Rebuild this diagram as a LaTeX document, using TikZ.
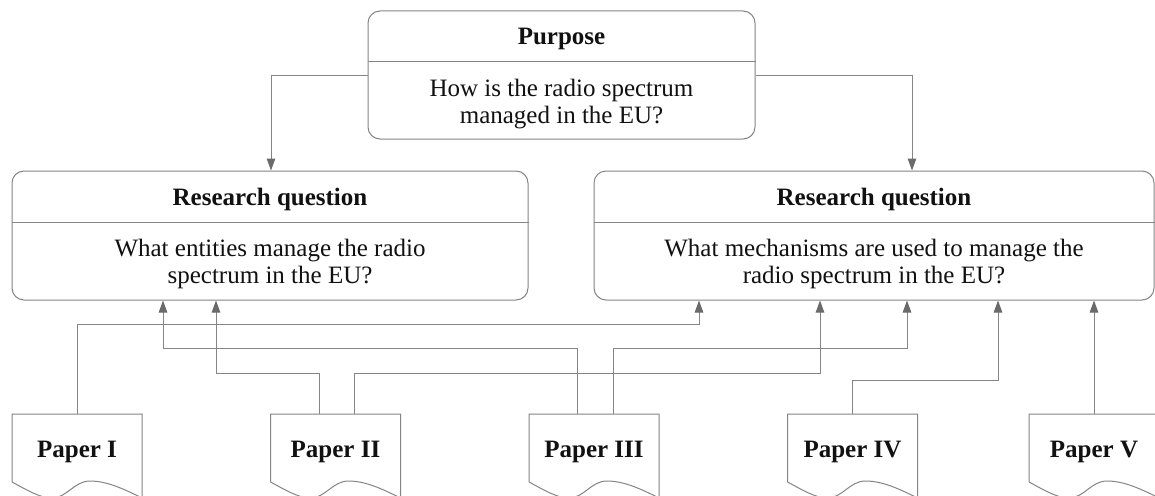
\documentclass[tikz,border=0pt]{standalone}
\usepackage{fontspec}
\setmainfont{Liberation Serif}
\usetikzlibrary{arrows.meta,calc}
\definecolor{linegray}{HTML}{858585}
\definecolor{tipgray}{HTML}{6A6A6A}
\definecolor{textcol}{HTML}{111111}
\tikzset{
  boxline/.style={draw=linegray, line width=1pt},
  bigbox/.style={boxline, rectangle, rounded corners=12pt, inner sep=0pt, fill=white},
  paperbox/.style={rectangle, inner sep=0pt, minimum width=130pt, minimum height=81pt},
  titletext/.style={anchor=base, inner sep=0pt, text=textcol, font=\fontsize{25}{30}\selectfont\bfseries},
  bodytext/.style={anchor=base, inner sep=0pt, text=textcol, font=\fontsize{25}{30}\selectfont},
  conn/.style={draw=linegray, line width=1pt, -{Triangle[length=12pt,width=8.5pt,color=tipgray]}},
}
\newcommand{\mypaper}[3]{%
  \node[paperbox] (#1) at (#2+65,454.5) {};
  \draw[boxline, fill=white] (#2,482) -- (#2,414) -- (#2+130,414) -- (#2+130,498)
    .. controls (#2+112,489) and (#2+95,481) .. (#2+78,481)
    .. controls (#2+62,481) and (#2+55,498) .. (#2+40,498)
    .. controls (#2+28,498) and (#2+15,490) .. (#2,482);
  \node[titletext] (#1t) at (#2+65,457) {#3};
}
\begin{document}
\begin{tikzpicture}[x=1pt,y=-1pt]
\useasboundingbox (0,0) rectangle (1155,495);
\clip (0,0) rectangle (1155,495);
\fill[white] (0,0) rectangle (1155,495);

% Purpose box
\node[bigbox, minimum width=387pt, minimum height=128pt] (purp) at (561.5,75) {};
\draw[boxline] (purp.west |- 0,61) -- (purp.east |- 0,61);
\node[titletext] (purpT) at (561.5,45) {Purpose};
\node[bodytext] (purpB1) at (561.5,96.5) {How is the radio spectrum};
\node[bodytext] (purpB2) at (561.5,123.5) {managed in the EU?};

% Research question 1
\node[bigbox, minimum width=516pt, minimum height=129pt] (rq1) at (270,235.5) {};
\draw[boxline] (rq1.west |- 0,222) -- (rq1.east |- 0,222);
\node[titletext] (rq1T) at (270,205) {Research question};
\node[bodytext] (rq1B1) at (270,256.5) {What entities manage the radio};
\node[bodytext] (rq1B2) at (270,283.5) {spectrum in the EU?};

% Research question 2
\node[bigbox, minimum width=560pt, minimum height=129pt] (rq2) at (874,235.5) {};
\draw[boxline] (rq2.west |- 0,222) -- (rq2.east |- 0,222);
\node[titletext] (rq2T) at (874,205) {Research question};
\node[bodytext] (rq2B1) at (874,256.5) {What mechanisms are used to manage the};
\node[bodytext] (rq2B2) at (874,283.5) {radio spectrum in the EU?};

% Papers
\mypaper{p1}{12}{Paper I}
\mypaper{p2}{270.5}{Paper II}
\mypaper{p3}{529}{Paper III}
\mypaper{p4}{787.5}{Paper IV}
\mypaper{p5}{1029}{Paper V}

% Purpose -> research questions
\draw[conn] (purp.west) -| ([xshift=1pt]rq1.north);
\draw[conn] (purp.east) -| ([xshift=38pt]rq2.north);

% Papers -> research questions
\draw[conn] (p1.north) -- ++(0,-89) -| ([xshift=-175pt]rq2.south);
\draw[conn] ([xshift=-16.5pt]p2.north) -- ++(0,-40) -| ([xshift=-54pt]rq1.south);
\draw[conn] ([xshift=18.5pt]p2.north) -- ++(0,-40) -| ([xshift=-54pt]rq2.south);
\draw[conn] ([xshift=-17pt]p3.north) -- ++(0,-65) -| ([xshift=-107pt]rq1.south);
\draw[conn] ([xshift=19pt]p3.north) -- ++(0,-65) -| ([xshift=33pt]rq2.south);
\draw[conn] (p4.north) -- ++(0,-33) -| ([xshift=124pt]rq2.south);
\draw[conn] (p5.north) -- ([xshift=220pt]rq2.south);
\end{tikzpicture}
\end{document}
